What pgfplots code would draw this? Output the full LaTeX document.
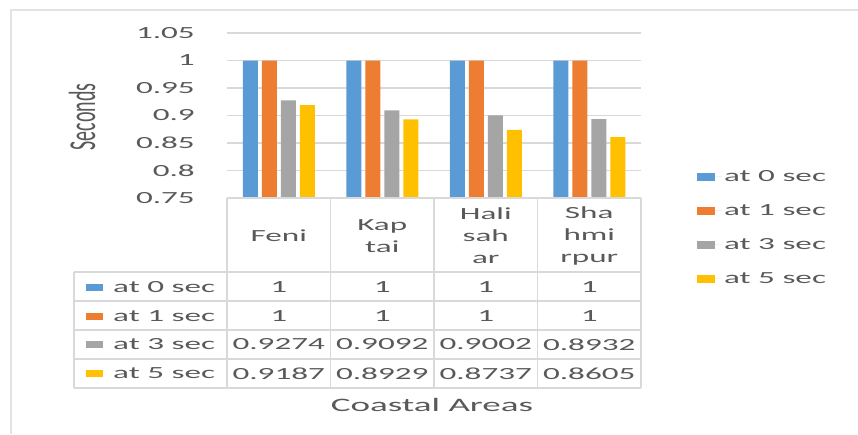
\documentclass[border=0pt]{standalone}
\usepackage{pgfplots}
\pgfplotsset{compat=1.18}
\usepackage{fontspec}
\setmainfont[FakeStretch=1.95]{Carlito}
\newfontfamily\plainfont{Carlito}
\definecolor{c0}{HTML}{5B9BD5}
\definecolor{c1}{HTML}{ED7D31}
\definecolor{c2}{HTML}{A5A5A5}
\definecolor{c3}{HTML}{FFC000}
\definecolor{textgray}{HTML}{595959}
\definecolor{gridgray}{HTML}{D9D9D9}
\definecolor{framegray}{HTML}{E3E3E3}
\begin{document}
\begin{tikzpicture}[x=1pt,y=1pt]
\path[use as bounding box] (0,0) rectangle (858,434);
% outer frame (top and left)
\draw[framegray, line width=2pt] (11,0) -- (11,424) -- (858,424);
\begin{axis}[
  at={(227pt,236pt)}, anchor=south west,
  scale only axis, width=414pt, height=165pt,
  xmin=-0.5, xmax=3.5, ymin=0.75, ymax=1.05,
  xtick=\empty,
  ytick={0.75,0.8,0.85,0.9,0.95,1,1.05},
  yticklabels={0.75,0.8,0.85,0.9,0.95,1,1.05},
  yticklabel style={anchor=east, inner sep=0pt, xshift=-32pt, text=textgray,
    font=\fontsize{17}{20}\selectfont},
  /pgf/number format/assume math mode=true,
  major tick length=0pt,
  axis line style={draw=none},
  ymajorgrids, grid style={color=gridgray, line width=1.2pt},
  legend style={at={(1.135,0.18)}, anchor=north west, draw=none, fill=none,
    font=\fontsize{17}{20}\selectfont, text=textgray, row sep=17.5pt,
    inner sep=0pt, cells={anchor=west}},
  legend image code/.code={\fill[#1] (0pt,-4pt) rectangle (18pt,4pt);
    \path (18pt,0pt) -- (25pt,0pt);},
]
\addplot[ybar, bar width=15pt, bar shift=-28.5pt, fill=c0, draw=none]
  coordinates {(0,1) (1,1) (2,1) (3,1)};
\addlegendentry{at 0 sec}
\addplot[ybar, bar width=15pt, bar shift=-9.5pt, fill=c1, draw=none]
  coordinates {(0,1) (1,1) (2,1) (3,1)};
\addlegendentry{at 1 sec}
\addplot[ybar, bar width=15pt, bar shift=9.5pt, fill=c2, draw=none]
  coordinates {(0,0.9274) (1,0.9092) (2,0.9002) (3,0.8932)};
\addlegendentry{at 3 sec}
\addplot[ybar, bar width=15pt, bar shift=28.5pt, fill=c3, draw=none]
  coordinates {(0,0.9187) (1,0.8929) (2,0.8737) (3,0.8605)};
\addlegendentry{at 5 sec}
\end{axis}
% y axis title
\node[rotate=90, text=textgray] at (82,317)
  {\scalebox{1}[1.9]{\plainfont\fontsize{20}{24}\selectfont Seconds}};
% data table grid
\begin{scope}[gridgray, line width=1.5pt]
  \draw (227,236) -- (641,236);
  \foreach \yy in {162,133,104,75,46} \draw (74,\yy) -- (641,\yy);
  \foreach \xx in {227,330.5,434,537.5,641} \draw (\xx,236) -- (\xx,46);
  \draw (74,162) -- (74,46);
\end{scope}
\begin{scope}[every node/.style={text=textgray, font=\fontsize{17}{22}\selectfont, align=center, inner sep=0pt}]
  \node at (278.75,198) {Feni};
  \node at (382.25,198) {Kap\\tai};
  \node at (485.75,198) {Hali\\sah\\ar};
  \node at (589.25,198) {Sha\\hmi\\rpur};
  % row labels
  \fill[c0] (86,143.5) rectangle (103,150.5);
  \fill[c1] (86,114.5) rectangle (103,121.5);
  \fill[c2] (86,86) rectangle (103,93);
  \fill[c3] (86,57) rectangle (103,64);
  \node[anchor=west] at (113,147) {at 0 sec};
  \node[anchor=west] at (113,118) {at 1 sec};
  \node[anchor=west] at (113,89.5) {at 3 sec};
  \node[anchor=west] at (113,60.5) {at 5 sec};
  % values
  \node at (278.75,147) {1};
  \node at (382.25,147) {1};
  \node at (485.75,147) {1};
  \node at (589.25,147) {1};
  \node at (278.75,118) {1};
  \node at (382.25,118) {1};
  \node at (485.75,118) {1};
  \node at (589.25,118) {1};
  \node at (278.75,89.5) {0.9274};
  \node at (382.25,89.5) {0.9092};
  \node at (485.75,89.5) {0.9002};
  \node at (589.25,89.5) {0.8932};
  \node at (278.75,60.5) {0.9187};
  \node at (382.25,60.5) {0.8929};
  \node at (485.75,60.5) {0.8737};
  \node at (589.25,60.5) {0.8605};
  \node[font=\fontsize{19}{22}\selectfont] at (432,29) {Coastal Areas};
\end{scope}
\end{tikzpicture}
\end{document}
